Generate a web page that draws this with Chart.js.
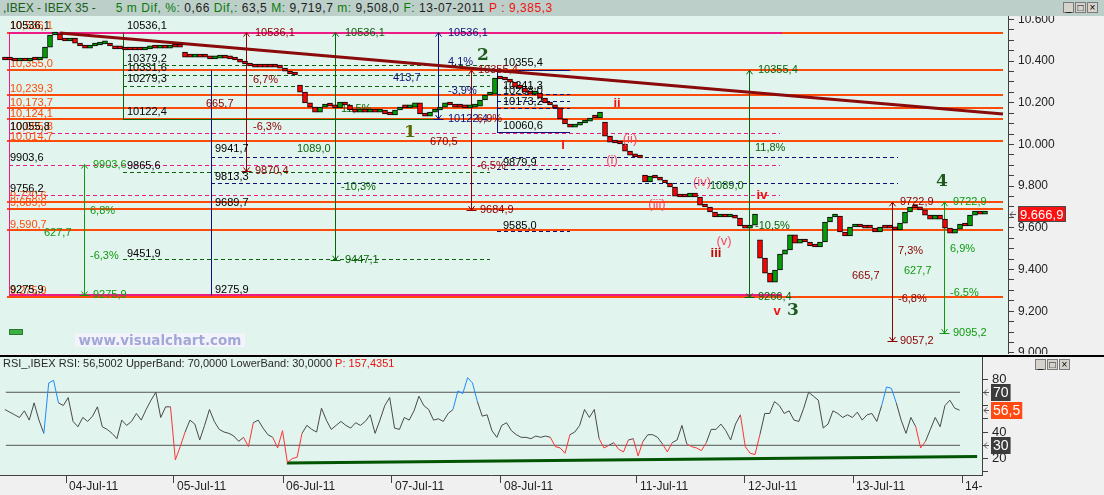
<!DOCTYPE html>
<html>
<head>
<meta charset="utf-8">
<script src="https://cdn.jsdelivr.net/npm/chart.js@4.4.1/dist/chart.umd.min.js"></script>
<style>
  html, body { margin: 0; padding: 0; background: #f0f0f0; }
  #wrap { position: relative; width: 1104px; height: 495px; overflow: hidden; background: #f0f0f0;
          font-family: "Liberation Sans", Arial, sans-serif; }
  #hdr { position: absolute; left: 0; top: 0; width: 1104px; height: 16px; background: #bccfc9;
         font-size: 12px; line-height: 16px; white-space: pre; color: #1e1e1e; padding-left: 3px; box-sizing: border-box; }
  #hdr .rest { letter-spacing: 0.55px; }
  .g { color: #0a7a0a; } .dg { color: #1d5e1d; } .r { color: #f01010; }
  #main { position: absolute; left: 0; top: 16px; }
  #sep { position: absolute; left: 0; top: 355px; width: 1104px; height: 2px; background: #000; }
  #rsi { position: absolute; left: 0; top: 357px; }
  #rsiHdr { position: absolute; left: 3px; top: 357px; font-size: 11px; line-height: 13px; white-space: pre; color: #2a2a2a; }
  .btns { position: absolute; display: flex; gap: 1px; }
  .btns span { width: 11px; height: 11px; background: #d6d3cc; border: 1px solid #7a7a7a; font-size: 10px;
               line-height: 10px; text-align: center; color: #000; box-sizing: border-box; }
  #wm { position: absolute; left: 75px; top: 333px; width: 170px; height: 14px; background: #f3f4fb;
        color: #a2a8d6; font: bold 13.5px "DejaVu Sans", sans-serif; line-height: 14px; text-align: center; }
  #gbtn { position: absolute; left: 9px; top: 329px; width: 14px; height: 6px; background: #3cb043;
          border: 1px solid #2a7a2a; box-sizing: border-box; }
</style>
</head>
<body>
<div id="wrap">
  <div id="hdr"><span class="dg">,IBEX - IBEX 35 -</span>      <span class="rest"><span class="g">5 m Dif, %:</span> 0,66 <span class="g">Dif,:</span> 63,5 <span class="g">M:</span> 9,719,7 <span class="g">m:</span> 9,508,0 <span class="g">F:</span> 13-07-2011 <span class="r">P : 9,385,3</span></span></div>
  <div class="btns" style="left:1063px;top:2px;"><span>_</span><span>□</span><span>×</span></div>
  <canvas id="main" width="1104" height="338"></canvas>
  <div id="wm">www.visualchart.com</div>
  <div id="gbtn"></div>
  <div id="sep"></div>
  <canvas id="rsi" width="1104" height="138"></canvas>
  <div id="rsiHdr">RSI_,IBEX RSI: 56,5002 UpperBand: 70,0000 LowerBand: 30,0000 <span class="r">P: 157,4351</span></div>
  <div class="btns" style="left:1035px;top:359px;"><span>_</span><span>□</span><span>×</span></div>
</div>

<script>
// ---- data (5-minute bars, one value per bar index) ----
const closes = [
  10405,10405,10400,10405,10400,10405,10405,10414,10467,10525,
  10530,10501,10496,10510,10486,10472,10462,10472,10477,10482,
  10486,10472,10458,10458,10453,10453,10453,10453,10458,10462,
  10462,10467,10462,10467,10467,10467,10419,10419,10424,10419,
  10419,10410,10414,10424,10414,10410,10405,10395,10386,10376,
  10371,10371,10371,10371,10371,10366,10352,10338,10333,10251,
  10199,10179,10155,10179,10194,10184,10175,10203,10189,10165,
  10155,10160,10155,10160,10155,10165,10146,10141,10165,10175,
  10175,10179,10199,10146,10136,10155,10165,10179,10199,10189,
  10179,10179,10175,10179,10184,10213,10237,10241,10318,10314,
  10309,10299,10275,10270,10251,10241,10246,10222,10199,10189,
  10175,10122,10098,10083,10093,10103,10112,10127,10127,10155,
  10040,10011,10007,10002,9968,9949,9940,9935,9820,9848,
  9839,9829,9815,9796,9752,9748,9748,9767,9748,9709,
  9700,9676,9652,9657,9652,9657,9647,9609,9599,9613,
  9666,9455,9383,9340,9398,9474,9494,9566,9527,9546,
  9532,9513,9508,9532,9628,9652,9657,9580,9561,9604,
  9618,9604,9599,9599,9580,9604,9599,9599,9590,9623,
  9676,9700,9695,9686,9661,9642,9661,9642,9599,9575,
  9594,9618,9609,9661,9681,9666,9667
];
// opening prices of bars that gap away from the previous close: [bar, open]
const gapOpens = [[37, 10443], [60, 10285], [121, 10107], [129, 9853], [152, 9542]];

const rsiValues = [
  57,55,53,51,56,49,62,49,39,77,
  79,62,60,66,48,44,51,48,52,59,
  44,42,39,35,49,45,48,54,49,57,
  64,70,51,59,59,19,29,40,49,46,
  34,45,57,48,42,40,39,37,33,36,
  29,47,49,43,38,36,28,41,17,20,
  21,39,45,42,40,58,49,42,45,48,
  45,43,47,45,48,53,39,49,60,66,
  43,42,51,49,56,67,60,57,49,50,
  48,54,57,71,69,81,77,63,52,53,
  41,36,45,47,41,38,36,36,35,37,
  36,37,36,29,28,24,38,40,45,57,
  51,57,35,28,30,32,27,25,34,35,
  22,33,38,38,36,31,25,32,34,45,
  31,29,28,26,32,42,42,46,41,34,
  46,53,29,24,23,38,54,54,63,60,
  54,56,49,48,58,70,67,64,43,46,
  56,54,51,53,51,55,49,53,54,48,
  60,74,73,62,49,39,51,44,28,33,
  42,51,44,60,64,58,56.5
];

const dayTicks  = [13.55, 35.72, 58.1, 80.47, 102.85, 130.77, 152.94, 175.12, 197.5];
const dayLabels = ['04-Jul-11','05-Jul-11','06-Jul-11','07-Jul-11','08-Jul-11','11-Jul-11','12-Jul-11','13-Jul-11','14-'];
const priceTicks = [9000, 9200, 9400, 9600, 9800, 10000, 10200, 10400, 10600];
const rsiTicks = [10, 20, 30, 40, 50, 60, 70, 80];
const rsiLabelled = [20, 40, 80];

const lastPrice = 9666.9;
const rsiLast = 56.5;
const rsiBands = [70, 30];
const bandSpan = [1.2, 197.1];
const trendLine = [[12, 10534], [200.6, 10146]];
const rsiSupport = [[58.9, 16.6], [200.6, 21.5]];

// ---- colours ----
const OR = '#ff4b0a', PK = '#ee1c84', DR = '#8b0000', NV = '#10107a',
      DG = '#0a640a', GR = '#109a10', BK = '#000';

// ---- drawing annotations (price levels, measuring arrows, wave counts) ----
const hLines = [
  ...[10536.1, 10355.4, 10239.3, 10173.7, 10124.1, 10014.7, 9722.9, 9689.6, 9590.7, 9266.4]
      .map(p => ({ p, a: 1.4, b: 200.6, c: OR, w: 2 })),
  { p: 10536.1, a: 1.8, b: 156.4, c: PK, w: 2 },
  { p: 9275.9, a: 1.8, b: 156.4, c: PK, w: 2 },
  ...[10055.8, 9903.6, 9756.2].map(p => ({ p, a: 1.8, b: 156, c: PK, d: 1 })),
  ...[10379.2, 10331.6, 10279.3, 9865.6, 9451.9].map(p => ({ p, a: 24.6, b: 98, c: DG, d: 1 })),
  { p: 10122.4, a: 24.6, b: 87.4, c: DG },
  ...[9941.7, 9813.3].map(p => ({ p, a: 42.2, b: 179.6, c: NV, d: 1 })),
  ...[10355.4, 10060.6].map(p => ({ p, a: 99.4, b: 114, c: NV })),
  ...[10241.3, 10208.0, 10173.2, 9879.9, 9585.0].map(p => ({ p, a: 99.4, b: 114, c: NV, d: 1 }))
];

const vLines = [
  { x: 1.8, p0: 10536.1, p1: 9275.9, c: PK },
  { x: 24.6, p0: 10536.1, p1: 10122.4, c: DG },
  { x: 42.2, p0: 10355.4, p1: 9275.9, c: NV },
  { x: 99.4, p0: 10355.4, p1: 10060.6, c: NV }
];

const arrows = [
  { x: 49.2, p0: 10536.1, p1: 9870.4, c: DR },
  { x: 87.6, p0: 10536.1, p1: 10122.4, c: NV },
  { x: 94.2, p0: 10355.4, p1: 9684.9, c: DR },
  { x: 67, p0: 10536.1, p1: 9447.1, c: DG },
  { x: 16.8, p0: 9903.6, p1: 9275.9, c: GR },
  { x: 149.8, p0: 10355.4, p1: 9266.4, c: DG },
  { x: 178.4, p0: 9722.9, p1: 9057.2, c: DR },
  { x: 188.8, p0: 9722.9, p1: 9095.2, c: GR }
];

const texts = [
  [2,10568,'10,536,1',OR],[2,10386,'10,355,0',OR],[2,10266,'10,239,3',OR],[2,10199,'10,173,7',OR],
  [2,10146,'10,124,1',OR],[2,10083,'10,055,8',OR],[2,10038,'10,014,7',OR],[2,9753,'9,720,6',OR],
  [2,9717,'9,689,6',OR],[2,9613,'9,590,7',OR],[2,9297,'9,275,9',OR],
  [2,10568,'10536,1',BK],[2,10086,'10055,8',BK],[2,9935,'9903,6',BK],[2,9786,'9756,2',BK],[2,9302,'9275,9',BK],
  [25.4,10568,'10536,1',BK],[25.4,10410,'10379,2',BK],[25.4,10369,'10331,6',BK],[25.4,10314,'10279,3',BK],
  [25.4,10155,'10122,4',BK],[25.4,9899,'9865,6',BK],[25.4,9477,'9451,9',BK],
  [43,9978,'9941,7',BK],[43,9846,'9813,3',BK],[43,9721,'9689,7',BK],[43,9302,'9275,9',BK],
  [100.6,10390,'10355,4',BK],[100.6,10282,'10241,3',BK],[100.6,10256,'10208,0',BK],[100.6,10203,'10173,2',BK],
  [100.6,10091,'10060,6',BK],[100.6,9911,'9879,9',BK],[100.6,9611,'9585,0',BK],
  [51,10536.1,'10536,1',DR],[51,9870.4,'9870,4',DR],[50.6,10311,'6,7%',DR],[41.2,10196,'665,7',DR],[50.6,10083,'-6,3%',DR],
  [89.6,10536.1,'10536,1',NV],[89.6,10122.4,'10122,4',NV],[89.6,10395,'4,1%',NV],[89.6,10256,'-3,9%',NV],[78.6,10318,'413,7',NV],
  [95.6,10355.4,'10355,4',DR],[96,9684.9,'9684,9',DR],[95.4,10124,'6,9%',DR],[86,10012,'670,5',DR],[95.4,9899,'-6,5%',DR],
  [69,10536.1,'10536,1',DG],[69,9447.1,'9447,1',DG],[59.4,9980,'1089,0',DG],[68.2,10170,'11,5%',DG],[68.2,9796,'-10,3%',DG],
  [18.6,9903.6,'9903,6',GR],[18.6,9275.9,'9275,9',GR],[18,9681,'6,8%',GR],[8.8,9575,'627,7',GR],[18,9467,'-6,3%',GR],
  [151.6,10355.4,'10355,4',DG],[151.6,9266.4,'9266,4',DG],[151,9983,'11,8%',DG],[142,9800,'1089,0',DG],[151,9611,'-10,5%',DG],
  [180,9722.9,'9722,9',DR],[180,9057.2,'9057,2',DR],[179.6,9489,'7,3%',DR],[170.4,9371,'665,7',DR],[179.6,9259,'-6,8%',DR],
  [190.6,9722.9,'9722,9',GR],[190.6,9095.2,'9095,2',GR],[190,9498,'6,9%',GR],[180.8,9393,'627,7',GR],[190,9287,'-6,5%',GR]
];

const waves = [
  [82, 10055, '1', '#5a6b00', 'bold 17px "DejaVu Serif"'],
  [96.6, 10424, '2', '#1e5a1e', 'bold 17px "DejaVu Serif"'],
  [158.6, 9201, '3', '#1e5a1e', 'bold 17px "DejaVu Serif"'],
  [188.4, 9820, '4', '#1e5a1e', 'bold 17px "DejaVu Serif"'],
  [112.6, 9997, 'i', '#f01010', 'bold 13px "Liberation Sans"'],
  [123.4, 10199, 'ii', '#f01010', 'bold 13px "Liberation Sans"'],
  [143.2, 9479, 'iii', '#cc0000', 'bold 13px "Liberation Sans"'],
  [152.4, 9757, 'iv', '#f01010', 'bold 13px "Liberation Sans"'],
  [155.4, 9201, 'v', '#f01010', 'bold 13px "Liberation Sans"'],
  [122.4, 9925, '(i)', '#ff4565', '13px "Liberation Sans"'],
  [126, 10026, '(ii)', '#ff4565', '13px "Liberation Sans"'],
  [131.4, 9714, '(iii)', '#ff4565', '13px "Liberation Sans"'],
  [140.4, 9820, '(iv)', '#ff4565', '13px "Liberation Sans"'],
  [144.8, 9537, '(v)', '#ff4565', '13px "Liberation Sans"']
];

// ---- helpers ----
const dots = s => s.replace(/\B(?=(\d{3})+(?!\d))/g, '.');
const fmtPrice = v => { const [i, d] = v.toFixed(1).split('.'); return dots(i) + ',' + d; };

const opensByBar = new Map(gapOpens);
const candles = closes.map((c, k) => {
  const bar = k + 1;
  const o = opensByBar.has(bar) ? opensByBar.get(bar) : (k ? closes[k - 1] : c);
  return { x: bar, y: [o, c], up: c > o };
});

const bgPlugin = {
  id: 'plotBg',
  beforeDraw(chart) {
    const { ctx, chartArea: a } = chart;
    ctx.save();
    ctx.fillStyle = '#e1f4ee';
    ctx.fillRect(a.left, a.top, a.right - a.left, a.bottom - a.top);
    ctx.restore();
  }
};

function arrowHead(ctx, x, y, dir) {
  ctx.beginPath();
  ctx.moveTo(x - 3, y + 4 * dir); ctx.lineTo(x, y); ctx.lineTo(x + 3, y + 4 * dir);
  ctx.stroke();
}

const annoPlugin = {
  id: 'anno',
  beforeDatasetsDraw(chart) {
    const { ctx, chartArea: a, scales: { x: xs, y: ys } } = chart;
    const X = v => xs.getPixelForValue(v), Y = v => ys.getPixelForValue(v);
    ctx.save();
    ctx.beginPath(); ctx.rect(a.left, a.top, a.right - a.left, a.bottom - a.top); ctx.clip();

    hLines.forEach(l => {
      ctx.strokeStyle = l.c; ctx.lineWidth = l.w || 1;
      ctx.setLineDash(l.d ? [4, 3] : []);
      const y = Math.round(Y(l.p)) + ((l.w || 1) % 2 ? 0.5 : 0);
      ctx.beginPath(); ctx.moveTo(X(l.a), y); ctx.lineTo(X(l.b), y); ctx.stroke();
    });
    ctx.setLineDash([]);
    ctx.lineWidth = 1;
    vLines.concat(arrows).forEach(l => {
      const x = Math.round(X(l.x)) + 0.5;
      ctx.strokeStyle = l.c;
      ctx.beginPath(); ctx.moveTo(x, Y(l.p0)); ctx.lineTo(x, Y(l.p1)); ctx.stroke();
    });
    arrows.forEach(l => {
      const x = Math.round(X(l.x)) + 0.5, y0 = Y(l.p0), y1 = Y(l.p1);
      ctx.strokeStyle = l.c;
      arrowHead(ctx, x, y0, 1);
      arrowHead(ctx, x, y1, -1);
      ctx.beginPath(); ctx.moveTo(x - 5, Math.round(y1) + 0.5); ctx.lineTo(x + 5, Math.round(y1) + 0.5); ctx.stroke();
    });

    ctx.font = '11px "Liberation Sans"';
    ctx.textBaseline = 'middle';
    ctx.textAlign = 'left';
    texts.forEach(([x, p, t, c]) => { ctx.fillStyle = c; ctx.fillText(t, X(x), Y(p)); });
    ctx.restore();
  },
  afterDatasetsDraw(chart) {
    const { ctx, scales: { x: xs, y: ys } } = chart;
    ctx.save();
    ctx.textAlign = 'center'; ctx.textBaseline = 'middle';
    waves.forEach(([x, p, t, c, f]) => { ctx.font = f; ctx.fillStyle = c; ctx.fillText(t, xs.getPixelForValue(x), ys.getPixelForValue(p)); });
    ctx.restore();
  },
  afterDraw(chart) {
    const { ctx, chartArea: a, scales: { y: ys } } = chart;
    const y = Math.round(ys.getPixelForValue(lastPrice));
    ctx.save();
    ctx.strokeStyle = '#555'; ctx.lineWidth = 1;
    ctx.beginPath(); ctx.moveTo(a.right + 2, y + 0.5); ctx.lineTo(a.right + 8, y + 0.5);
    ctx.moveTo(a.right + 5, y - 2.5); ctx.lineTo(a.right + 2, y + 0.5); ctx.lineTo(a.right + 5, y + 3.5); ctx.stroke();
    ctx.fillStyle = '#ff1010';
    ctx.fillRect(a.right + 10, y - 8, 48, 16);
    ctx.strokeStyle = '#4a4a4a'; ctx.strokeRect(a.right + 10.5, y - 7.5, 47, 15);
    ctx.fillStyle = '#fff'; ctx.font = '13px "Liberation Sans"'; ctx.textBaseline = 'middle';
    ctx.fillText(fmtPrice(lastPrice), a.right + 12, y + 1);
    ctx.restore();
  }
};

const rsiTagPlugin = {
  id: 'rsiTags',
  afterDraw(chart) {
    const { ctx, chartArea: a, scales: { y: ys } } = chart;
    const tag = (v, txt, bg) => {
      const y = Math.round(ys.getPixelForValue(v));
      ctx.strokeStyle = '#555'; ctx.lineWidth = 1;
      ctx.beginPath(); ctx.moveTo(a.right + 2, y + 0.5); ctx.lineTo(a.right + 7, y + 0.5);
      ctx.moveTo(a.right + 5, y - 2.5); ctx.lineTo(a.right + 2, y + 0.5); ctx.lineTo(a.right + 5, y + 3.5); ctx.stroke();
      ctx.font = '14px "Liberation Sans"';
      const w = ctx.measureText(txt).width + 4;
      ctx.fillStyle = bg; ctx.fillRect(a.right + 9, y - 8, w, 17);
      ctx.fillStyle = '#fff'; ctx.textBaseline = 'middle'; ctx.textAlign = 'left';
      ctx.fillText(txt, a.right + 11, y + 1);
    };
    ctx.save();
    tag(rsiBands[0], String(rsiBands[0]), '#3c3c3c');
    tag(rsiLast, rsiLast.toFixed(1).replace('.', ','), '#ff4a12');
    tag(rsiBands[1], String(rsiBands[1]), '#3c3c3c');
    ctx.restore();
  }
};

// ---- price chart ----
new Chart(document.getElementById('main'), {
  type: 'bar',
  data: {
    datasets: [
      {
        type: 'bar',
        data: candles.map(d => ({ x: d.x, y: d.y })),
        backgroundColor: ctx => candles[ctx.dataIndex].up ? '#00a000' : '#ff0000',
        borderColor: '#000',
        borderWidth: 1,
        borderSkipped: false,
        barThickness: 5,
        minBarLength: 3,
        order: 0
      },
      {
        type: 'line',
        data: trendLine.map(([x, y]) => ({ x, y })),
        borderColor: '#8b0a0a',
        borderWidth: 3,
        pointRadius: 0,
        order: 1
      }
    ]
  },
  options: {
    responsive: false,
    animation: false,
    events: [],
    layout: { padding: 0 },
    plugins: { legend: { display: false }, tooltip: { enabled: false } },
    scales: {
      x: { type: 'linear', min: 0, max: 201.6, offset: false, display: false },
      y: {
        type: 'linear', position: 'right', min: 8995, max: 10616,
        afterBuildTicks: s => {
          const t = [];
          for (let v = priceTicks[0]; v <= priceTicks[priceTicks.length - 1]; v += 50) t.push({ value: v });
          s.ticks = t;
        },
        afterFit: s => { s.width = 96; s.paddingTop = 0; s.paddingBottom = 0; },
        grid: { drawOnChartArea: false, tickLength: 6, color: '#404040' },
        border: { color: '#404040' },
        ticks: {
          autoSkip: false, padding: 4, color: '#222',
          font: { family: 'Liberation Sans', size: 12 },
          callback: v => priceTicks.includes(v) ? dots(String(v)) : ''
        }
      }
    }
  },
  plugins: [bgPlugin, annoPlugin]
});

// ---- RSI chart ----
const segColor = ctx => {
  const a = ctx.p0.parsed.y, b = ctx.p1.parsed.y;
  if (a > 70 || b > 70) return '#1e8cff';
  if (a < 30 || b < 30) return '#ff3434';
  return '#4a4a4a';
};

new Chart(document.getElementById('rsi'), {
  type: 'line',
  data: {
    datasets: [
      {
        data: rsiValues.map((v, k) => ({ x: k + 1, y: v })),
        borderColor: '#4a4a4a', borderWidth: 1, pointRadius: 0,
        segment: { borderColor: segColor }, order: 0
      },
      ...rsiBands.map(b => ({
        data: bandSpan.map(x => ({ x, y: b })),
        borderColor: '#555', borderWidth: 1, pointRadius: 0, order: 2
      })),
      {
        data: rsiSupport.map(([x, y]) => ({ x, y })),
        borderColor: '#005500', borderWidth: 3, pointRadius: 0, order: 1
      }
    ]
  },
  options: {
    responsive: false,
    animation: false,
    events: [],
    layout: { padding: 0 },
    plugins: { legend: { display: false }, tooltip: { enabled: false } },
    scales: {
      x: {
        type: 'linear', position: 'bottom', min: 0, max: 201.6, offset: false,
        afterBuildTicks: s => { s.ticks = dayTicks.map(v => ({ value: v })); },
        afterFit: s => { s.height = 20; s.paddingLeft = 0; s.paddingRight = 0; },
        grid: { drawOnChartArea: false, tickLength: 8, color: '#404040' },
        border: { color: '#404040' },
        ticks: {
          autoSkip: false, maxRotation: 0, align: 'start', labelOffset: 3, padding: -4,
          color: '#222', font: { family: 'Liberation Sans', size: 12 },
          callback: (v, i) => dayLabels[i]
        }
      },
      y: {
        type: 'linear', position: 'right', min: 7.6, max: 96.6,
        afterBuildTicks: s => { s.ticks = rsiTicks.map(v => ({ value: v })); },
        afterFit: s => { s.width = 122; s.paddingTop = 0; s.paddingBottom = 0; },
        grid: { drawOnChartArea: false, tickLength: 6, color: '#404040' },
        border: { color: '#404040' },
        ticks: {
          autoSkip: false, padding: 4, color: '#222',
          font: { family: 'Liberation Sans', size: 13 },
          callback: v => rsiLabelled.includes(v) ? String(v) : ''
        }
      }
    }
  },
  plugins: [bgPlugin, rsiTagPlugin]
});
</script>
</body>
</html>
